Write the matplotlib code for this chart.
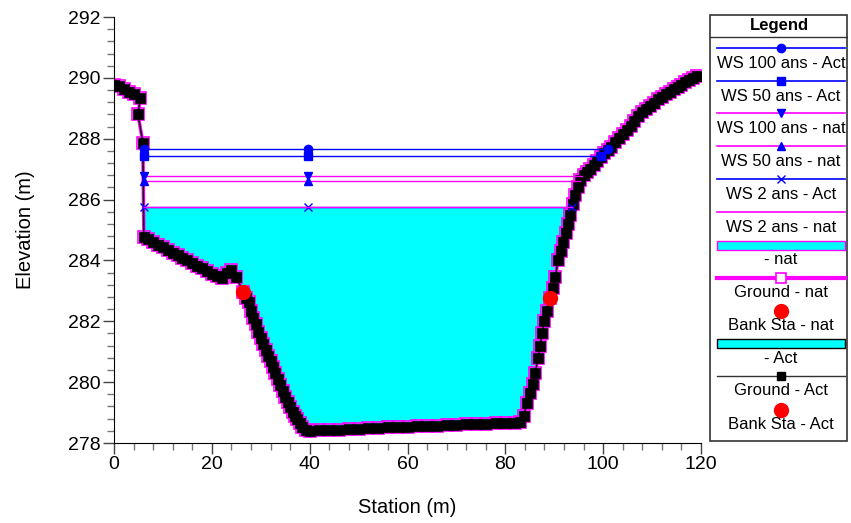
import matplotlib
matplotlib.use("Agg")
import matplotlib.pyplot as plt
import numpy as np
from matplotlib.patches import Rectangle

plt.rcParams["font.family"] = ["Liberation Sans", "DejaVu Sans"]

# Ground profile (same survey for nat and Act)
ground_sta = [
    0.0, 1.0, 2.0, 3.0, 4.0, 5.4, 4.9, 5.9, 6.1,
    7.0, 8.0, 9.0, 10.0, 11.0, 12.0, 13.0, 14.0, 15.0, 16.0, 17.0, 18.0, 19.0,
    20.0, 21.0, 22.0, 23.0, 24.0, 25.0, 26.4,
    27.0, 27.5, 28.0, 28.5, 29.0, 29.5, 30.0, 30.5, 31.0, 31.5, 32.0, 32.5,
    33.0, 33.5, 34.0, 34.5, 35.0, 35.5, 36.0, 36.5, 37.0, 37.5, 38.0, 38.5, 39.2,
    40, 42, 44, 46, 48, 50, 52, 54, 56, 58, 60, 62, 64, 66, 68, 70, 72, 74, 76,
    78, 80, 82, 83.0,
    83.8, 84.4, 85.1, 85.6, 86.1, 86.7, 87.1, 87.5, 88.0, 88.5, 89.2, 89.7,
    90.2, 90.8, 91.3, 91.8, 92.3, 92.8, 93.3, 93.8, 94.3, 94.8, 95.3, 96.0,
    96.7, 97.4, 98.1, 98.8, 99.5, 100.2, 100.9, 101.6, 102.4, 103.2, 104.0,
    104.8, 105.6, 106.4, 107.2, 108.0, 108.8, 109.6, 110.4, 111.2, 112.0,
    112.8, 113.6, 114.4, 115.2, 116.0, 116.8, 117.6, 118.4, 119.2,
]
ground_elev = [
    289.78, 289.72, 289.64, 289.55, 289.47, 289.35, 288.80, 287.87, 284.78,
    284.70, 284.61, 284.52, 284.44, 284.35, 284.26, 284.18, 284.09, 284.00,
    283.92, 283.83, 283.74, 283.65, 283.57, 283.48, 283.42, 283.58, 283.68,
    283.45, 282.97,
    282.78, 282.62, 282.35, 282.12, 281.90, 281.66, 281.45, 281.24, 281.05,
    280.86, 280.68, 280.50, 280.30, 280.10, 279.90, 279.72, 279.52, 279.35,
    279.18, 279.03, 278.90, 278.78, 278.65, 278.54, 278.42,
    278.40, 278.42, 278.43, 278.44, 278.46, 278.47, 278.48, 278.50, 278.51,
    278.52, 278.53, 278.55, 278.56, 278.57, 278.58, 278.60, 278.61, 278.62,
    278.63, 278.65, 278.66, 278.67, 278.70,
    278.90, 279.30, 279.65, 279.95, 280.30, 280.80, 281.20, 281.60, 282.00,
    282.35, 282.78, 283.10, 283.45, 284.00, 284.30, 284.60, 284.90, 285.20,
    285.50, 285.85, 286.15, 286.40, 286.64, 286.80, 286.92, 287.02, 287.15,
    287.28, 287.40, 287.52, 287.62, 287.74, 287.88, 288.02, 288.15, 288.28,
    288.42, 288.58, 288.74, 288.88, 288.99, 289.09, 289.19, 289.29, 289.38,
    289.46, 289.55, 289.63, 289.71, 289.78, 289.86, 289.93, 290.00, 290.05,
]

bank_sta = [26.4, 89.2]
bank_elev = [282.97, 282.78]

# Water surfaces
ws_names = ["WS 100 ans - Act", "WS 50 ans - Act", "WS 100 ans - nat",
            "WS 50 ans - nat", "WS 2 ans - Act", "WS 2 ans - nat"]
ws_elev = [287.66, 287.43, 286.76, 286.60, 285.75, 285.75]
ws_left = [6.1, 6.1, 6.1, 6.1, 6.1, 6.1]
ws_right = [101.0, 99.6, 95.7, 95.2, 93.7, 93.7]
ws_mid = 39.6

BLUE = "#0000ff"
MAG = "#ff00ff"
CYAN = "#00ffff"
ws_colors = [BLUE, BLUE, MAG, MAG, BLUE, MAG]
ws_markers = ["o", "s", "v", "^", "x", None]
ws_mevery = [[0, 1, 2], [0, 1, 2], [0, 1], [0, 1], [0, 1, 2], [0]]

fig = plt.figure(figsize=(8.51, 5.23), dpi=100)
ax = fig.add_axes([114 / 851, 1 - 443 / 523, (701 - 114) / 851, (443 - 17) / 523])

gs = np.array(ground_sta)
ge = np.array(ground_elev)
ax.fill_between(gs, ge, ws_elev[4], where=ge <= ws_elev[4], interpolate=True,
                color=CYAN, linewidth=0, zorder=1)

for name, el, l, r, c, m, me in zip(ws_names, ws_elev, ws_left, ws_right,
                                    ws_colors, ws_markers, ws_mevery):
    ax.plot([l, ws_mid, r], [el, el, el], color=c, lw=1.0, marker=m,
            markevery=me, markersize=6, mfc=BLUE, mec=BLUE, mew=1.0, zorder=3)

# Ground nat under, ground Act on top
ax.plot(gs, ge, color=MAG, lw=2.5, marker="s", markersize=8, mfc="none",
        mec=MAG, mew=1.2, zorder=2)
ax.plot(gs, ge, color="black", lw=1.0, marker="s", markersize=7, mfc="black",
        mec="black", mew=0.5, zorder=2.5)
ax.plot(bank_sta, bank_elev, ls="none", marker="o", markersize=10,
        mfc="red", mec="red", zorder=4)

ax.set_xlim(0, 120)
ax.set_ylim(278, 292)
ax.set_xticks(np.arange(0, 121, 20))
ax.set_yticks(np.arange(278, 293, 2))
ax.set_xticks(np.arange(0, 121, 4), minor=True)
ax.set_yticks(np.arange(278, 292.01, 0.4), minor=True)
ax.tick_params(which="major", length=8, width=1, color="#444444",
               labelsize=14, pad=1.5)
ax.tick_params(which="minor", length=5, width=1, color="#777777")
for s in ["top", "right"]:
    ax.spines[s].set_visible(False)
ax.set_xlabel("Station (m)", fontsize=14.5, labelpad=18)
ax.set_ylabel("Elevation (m)", fontsize=14.5, labelpad=24)

# Legend panel
lg = fig.add_axes([709 / 851, 1 - 442 / 523, (848 - 709) / 851, (442 - 14) / 523])
lg.set_xlim(709, 848)
lg.set_ylim(442, 14)
lg.axis("off")
lg.add_patch(Rectangle((709.5, 14.5), 138, 427, fill=False, ec="#333333", lw=1.2))
lg.plot([709.5, 847.5], [37, 37], color="#333333", lw=1)
lg.text(779, 25.5, "Legend", ha="center", va="center", fontsize=12,
        fontweight="bold")

x0, x1, xm = 717, 845, 781
rows = [48, 81, 113, 146, 179, 212, 245, 278, 311, 344, 376, 410]
for i, (name, c, m) in enumerate(zip(ws_names, ws_colors, ws_markers)):
    y = rows[i]
    lg.plot([x0, x1], [y, y], color=c, lw=1.2)
    if m:
        lg.plot([xm], [y], marker=m, markersize=6, mfc=BLUE, mec=BLUE, mew=1.0)
    lg.text(xm, y + 15.5, name, ha="center", va="center", fontsize=12)

y = rows[6]
lg.add_patch(Rectangle((x0, y - 4.5), x1 - x0, 9, fc=CYAN, ec=MAG, lw=1))
lg.text(xm, y + 14.5, "- nat", ha="center", va="center", fontsize=12)
y = rows[7]
lg.plot([x0, x1], [y, y], color=MAG, lw=3)
lg.plot([xm], [y], marker="s", markersize=7, mfc="white", mec=MAG, mew=1.2)
lg.text(xm, y + 14.5, "Ground - nat", ha="center", va="center", fontsize=12)
y = rows[8]
lg.plot([xm], [y], marker="o", markersize=10, mfc="red", mec="red")
lg.text(xm, y + 14.5, "Bank Sta - nat", ha="center", va="center", fontsize=12)
y = rows[9]
lg.add_patch(Rectangle((x0, y - 4.5), x1 - x0, 9, fc=CYAN, ec="black", lw=1))
lg.text(xm, y + 14.5, "- Act", ha="center", va="center", fontsize=12)
y = rows[10]
lg.plot([x0, x1], [y, y], color="#333333", lw=1)
lg.plot([xm], [y], marker="s", markersize=6, mfc="black", mec="black")
lg.text(xm, y + 14.5, "Ground - Act", ha="center", va="center", fontsize=12)
y = rows[11]
lg.plot([xm], [y], marker="o", markersize=10, mfc="red", mec="red")
lg.text(xm, y + 14.5, "Bank Sta - Act", ha="center", va="center", fontsize=12)

fig.savefig("out.png", dpi=100)
